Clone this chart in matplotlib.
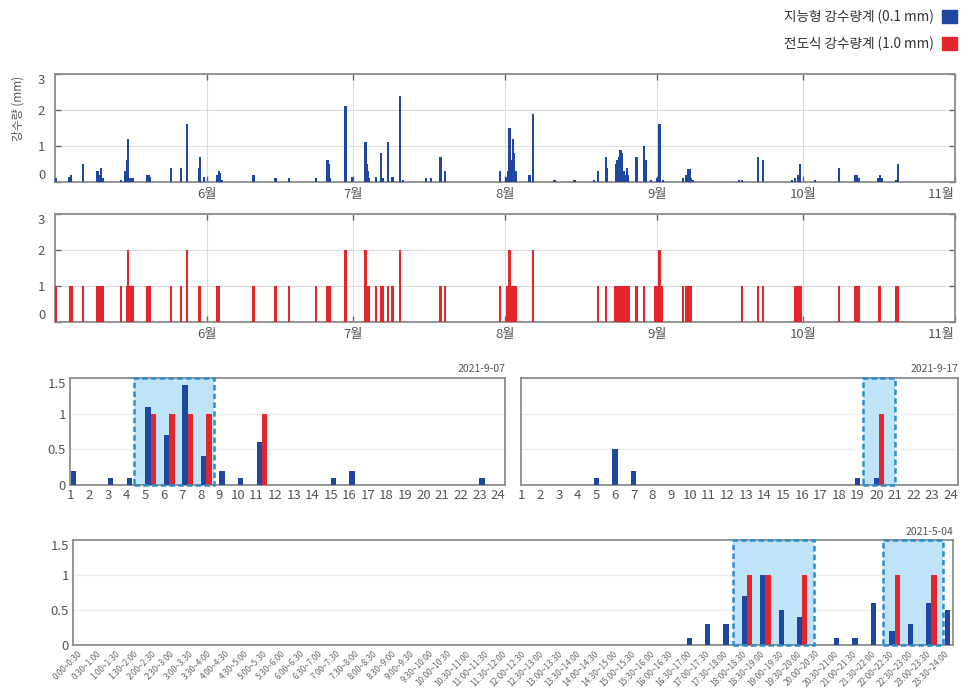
import numpy as np
import pandas as pd
import matplotlib
matplotlib.use('Agg')
import matplotlib.pyplot as plt
import matplotlib.dates as mdates
from matplotlib.patches import Rectangle, Patch

plt.rcParams['font.family'] = ['Noto Sans CJK KR', 'DejaVu Sans']

BLUE = '#1f47a2'
RED = '#e2262b'
GRID = '#dcdcdc'
SPINE = '#8c8c8c'
TXT = '#555555'
BOX_FILL = '#c0e4f7'
BOX_EDGE = '#2a8dcc'

# season overview (days after 2021-05-01)
start = pd.Timestamp('2021-05-01')
end = pd.Timestamp('2021-11-01')

blue_day = [0.2, 2.9, 3.3, 5.8, 8.7, 9.0, 9.4, 9.7, 13.5, 14.4, 14.7, 15.0, 15.4, 15.7, 16.0,
            18.9, 19.1, 19.4, 23.7, 25.8, 27.0, 29.4, 29.7, 30.5, 33.1, 33.5, 33.8, 34.2,
            40.6, 45.1, 47.8, 53.3, 55.7, 55.9, 56.2, 59.4, 60.8, 63.5, 63.7, 63.9, 64.2,
            65.7, 66.6, 67.1, 68.0, 69.0, 70.6, 71.2, 75.8, 76.8, 78.8, 79.8,
            91.0, 92.2, 92.6, 92.9, 93.2, 93.6, 93.9, 94.3, 97.0, 97.8, 102.1, 106.2,
            110.2, 111.0, 112.7, 112.9, 114.8, 115.0, 115.3, 115.6, 115.8, 116.0, 116.3,
            116.7, 116.9, 117.2, 118.9, 120.4, 120.8, 121.9, 123.0, 123.3, 123.6, 124.3,
            128.4, 129.1, 129.4, 129.8, 130.1, 130.5, 139.8, 140.4, 143.8, 144.8,
            150.6, 151.3, 152.0, 152.3, 155.4, 160.3, 163.6, 163.9, 164.3,
            168.2, 168.7, 169.1, 172.0, 172.3]
blue_mm = [0.1, 0.15, 0.2, 0.5, 0.3, 0.2, 0.4, 0.1, 0.05, 0.3, 0.6, 1.2, 0.1, 0.1, 0.1,
           0.2, 0.2, 0.15, 0.4, 0.4, 1.6, 0.4, 0.7, 0.15, 0.2, 0.3, 0.25, 0.05,
           0.2, 0.1, 0.1, 0.1, 0.6, 0.5, 0.1, 2.1, 0.15, 1.1, 0.5, 0.3, 0.1,
           0.15, 0.8, 0.1, 1.1, 0.15, 2.4, 0.05, 0.1, 0.1, 0.7, 0.3,
           0.3, 0.15, 0.3, 1.5, 0.6, 1.2, 0.8, 0.3, 0.2, 1.9, 0.05, 0.05,
           0.05, 0.3, 0.7, 0.4, 0.5, 0.6, 0.7, 0.9, 0.8, 0.4, 0.3,
           0.2, 0.4, 0.2, 0.7, 1.0, 0.6, 0.05, 0.1, 0.05, 1.6, 0.05,
           0.1, 0.2, 0.35, 0.35, 0.1, 0.05, 0.05, 0.05, 0.7, 0.6,
           0.05, 0.1, 0.2, 0.5, 0.05, 0.4, 0.2, 0.2, 0.1,
           0.1, 0.2, 0.1, 0.05, 0.5]

red_day = [0.2, 3.1, 3.4, 5.8, 8.7, 9.0, 9.4, 9.7, 13.5, 14.7, 15.0, 15.4, 15.7, 16.0,
           18.9, 19.1, 19.4, 23.7, 25.8, 27.0, 29.5, 29.7, 33.1, 33.4, 33.6, 40.6, 45.1,
           47.8, 53.3, 55.7, 55.9, 56.2, 59.4, 63.5, 63.9, 64.2, 65.7, 66.6, 67.1, 68.0,
           69.0, 70.6, 78.8, 79.8,
           91.0, 92.4, 92.7, 92.9, 93.2, 93.6, 93.9, 94.3, 97.8, 111.0, 112.7,
           114.6, 114.9, 115.1, 115.4, 115.6, 115.9, 116.2, 116.5, 116.7, 117.0, 117.3,
           118.9, 120.4, 122.7, 123.1, 123.4, 123.6, 123.8, 124.1, 128.4, 129.1, 129.4,
           129.8, 130.0, 140.4, 143.8, 144.8, 151.4, 151.8, 152.1, 152.5, 160.3,
           163.6, 163.9, 164.1, 164.4, 168.4, 168.7, 172.0, 172.3]
red_mm = [1, 1, 1, 1, 1, 1, 1, 1, 1, 1, 2, 1, 1, 1,
          1, 1, 1, 1, 1, 2, 1, 1, 1, 1, 1, 1, 1,
          1, 1, 1, 1, 1, 2, 2, 1, 1, 1, 1, 1, 1,
          1, 2, 1, 1,
          1, 1, 1, 2, 1, 1, 1, 1, 2, 1, 1,
          1, 1, 1, 1, 1, 1, 1, 1, 1, 1, 1,
          1, 1, 1, 1, 1, 2, 1, 1, 1, 1, 1,
          1, 1, 1, 1, 1, 1, 1, 1, 1, 1,
          1, 1, 1, 1, 1, 1, 1, 1]

month_ticks = ['2021-06-01', '2021-07-01', '2021-08-01', '2021-09-01', '2021-10-01', '2021-11-01']
month_labels = ['6월', '7월', '8월', '9월', '10월', '11월']

# hourly detail days
hours = list(range(1, 25))
sep07_blue = [0.2, 0, 0.1, 0.1, 1.1, 0.7, 1.4, 0.4, 0.2, 0.1, 0.6, 0,
              0, 0, 0.1, 0.2, 0, 0, 0, 0, 0, 0, 0.1, 0]
sep07_red = [0, 0, 0, 0, 1, 1, 1, 1, 0, 0, 1, 0,
             0, 0, 0, 0, 0, 0, 0, 0, 0, 0, 0, 0]
sep17_blue = [0, 0, 0, 0, 0.1, 0.5, 0.2, 0, 0, 0, 0, 0,
              0, 0, 0, 0, 0, 0, 0.1, 0.1, 0, 0, 0, 0]
sep17_red = [0, 0, 0, 0, 0, 0, 0, 0, 0, 0, 0, 0,
             0, 0, 0, 0, 0, 0, 0, 1, 0, 0, 0, 0]

# half-hour detail 2021-05-04
slots = list(range(48))
slot_labels = [f'{i // 2}:{(i % 2) * 30:02d}~{(i + 1) // 2}:{((i + 1) % 2) * 30:02d}' for i in slots]
may04_blue = [0] * 33 + [0.1, 0.3, 0.3, 0.7, 1.0, 0.5, 0.4, 0, 0.1, 0.1, 0.6, 0.2, 0.3, 0.6, 0.5]
may04_red = [0] * 36 + [1, 1, 0, 1, 0, 0, 0, 0, 1, 0, 1, 0]


def style_box(ax):
    for s in ax.spines.values():
        s.set_color(SPINE)
        s.set_linewidth(1.3)


def add_box(ax, x0, x1, top):
    ax.add_patch(Rectangle((x0, 0), x1 - x0, top, facecolor=BOX_FILL, edgecolor='none', zorder=1))
    ax.add_patch(Rectangle((x0, 0), x1 - x0, top, facecolor='none', edgecolor=BOX_EDGE,
                           lw=1.8, ls=(0, (2.2, 1.3)), zorder=4, clip_on=False))


fig = plt.figure(figsize=(9.63, 6.93), dpi=100)

ax1 = fig.add_axes([0.0571, 0.7374, 0.9346, 0.1558])
ax2 = fig.add_axes([0.0571, 0.5354, 0.9346, 0.1558])
x0 = mdates.date2num(start)
for ax, d, v, c in [(ax1, blue_day, blue_mm, BLUE), (ax2, red_day, red_mm, RED)]:
    ax.bar(x0 + np.array(d), v, width=0.45, color=c, lw=0, zorder=3)
    ax.set_xlim(x0, mdates.date2num(end))
    ax.set_ylim(0, 3)
    ax.set_yticks([0, 1, 2, 3])
    ax.set_xticks(mdates.date2num(pd.to_datetime(month_ticks)))
    ax.set_xticklabels(month_labels)
    ax.grid(color=GRID, lw=0.8)
    ax.set_axisbelow(True)
    ax.tick_params(direction='in', length=4, width=1, top=True, right=True, color='#666666',
                   labelcolor=TXT, labelsize=9.5)
    ax.tick_params(axis='y', pad=7)
    ax.tick_params(axis='x', pad=4)
    yt = ax.yaxis.get_major_ticks()
    yt[0].label1.set_va('bottom')
    yt[-1].label1.set_va('top')
    ax.xaxis.get_major_ticks()[-1].label1.set_ha('right')
    style_box(ax)

ax1.set_ylabel('강수량 (mm)', fontsize=8.5, color=TXT)
ax1.yaxis.set_label_coords(-0.034, 0.68)

# hourly panels
ax3 = fig.add_axes([0.0727, 0.3001, 0.4517, 0.1544])
ax4 = fig.add_axes([0.5410, 0.3001, 0.4538, 0.1544])
panels = [(ax3, sep07_blue, sep07_red, (4.4, 8.72), '2021-9-07', 0.0, True),
          (ax4, sep17_blue, sep17_red, (19.3, 21.0), '2021-9-17', -0.15, False)]
for ax, b, r, box, label, off, showy in panels:
    h = np.array(hours) + off
    ax.bar(h, b, width=0.29, align='edge', color=BLUE, lw=0, zorder=3)
    ax.bar(h + 0.29, r, width=0.29, align='edge', color=RED, lw=0, zorder=3)
    add_box(ax, box[0], box[1], 1.5)
    ax.set_xlim(0.95, 24.38)
    ax.set_ylim(0, 1.5)
    ax.set_xticks(hours)
    ax.set_yticks([0, 0.5, 1, 1.5])
    ax.set_yticklabels(['0', '0.5', '1', '1.5'])
    ax.grid(axis='y', color='#eeeeee', lw=1)
    ax.set_axisbelow(True)
    ax.tick_params(length=0, labelcolor=TXT, labelsize=9.5, pad=3)
    if not showy:
        ax.tick_params(axis='y', labelleft=False)
    else:
        ax.yaxis.get_major_ticks()[-1].label1.set_va('top')
    ax.text(1.0, 1.04, label, transform=ax.transAxes, ha='right', va='bottom', fontsize=7.5, color=TXT)
    style_box(ax)

# half-hour panel
ax5 = fig.add_axes([0.0758, 0.0693, 0.9138, 0.1515])
s = np.array(slots)
ax5.bar(s, may04_blue, width=0.28, align='edge', color=BLUE, lw=0, zorder=3)
ax5.bar(s + 0.28, may04_red, width=0.28, align='edge', color=RED, lw=0, zorder=3)
add_box(ax5, 35.5, 39.9, 1.5)
add_box(ax5, 43.64, 46.92, 1.5)
ax5.set_xlim(-0.27, 47.45)
ax5.set_ylim(0, 1.5)
ax5.set_xticks(slots)
ax5.set_xticklabels(slot_labels, rotation=45, ha='right', rotation_mode='anchor', fontsize=6,
                    color='#666666')
ax5.set_yticks([0, 0.5, 1, 1.5])
ax5.set_yticklabels(['0', '0.5', '1', '1.5'])
ax5.grid(axis='y', color='#eeeeee', lw=1)
ax5.set_axisbelow(True)
ax5.tick_params(axis='y', length=0, labelcolor=TXT, labelsize=9.5, pad=3)
ax5.tick_params(axis='x', length=0, pad=3)
ax5.yaxis.get_major_ticks()[-1].label1.set_va('top')
ax5.text(1.0, 1.03, '2021-5-04', transform=ax5.transAxes, ha='right', va='bottom', fontsize=7.5, color=TXT)
style_box(ax5)

handles = [Patch(color=BLUE, label='지능형 강수량계 (0.1 mm)'),
           Patch(color=RED, label='전도식 강수량계 (1.0 mm)')]
fig.legend(handles=handles, loc='upper right', bbox_to_anchor=(1.006, 1.004), frameon=False,
           markerfirst=False, handlelength=1.1, handleheight=1.1, fontsize=9.8,
           labelspacing=0.95, handletextpad=0.6, labelcolor='#333333')

fig.savefig('out.png', dpi=100)
